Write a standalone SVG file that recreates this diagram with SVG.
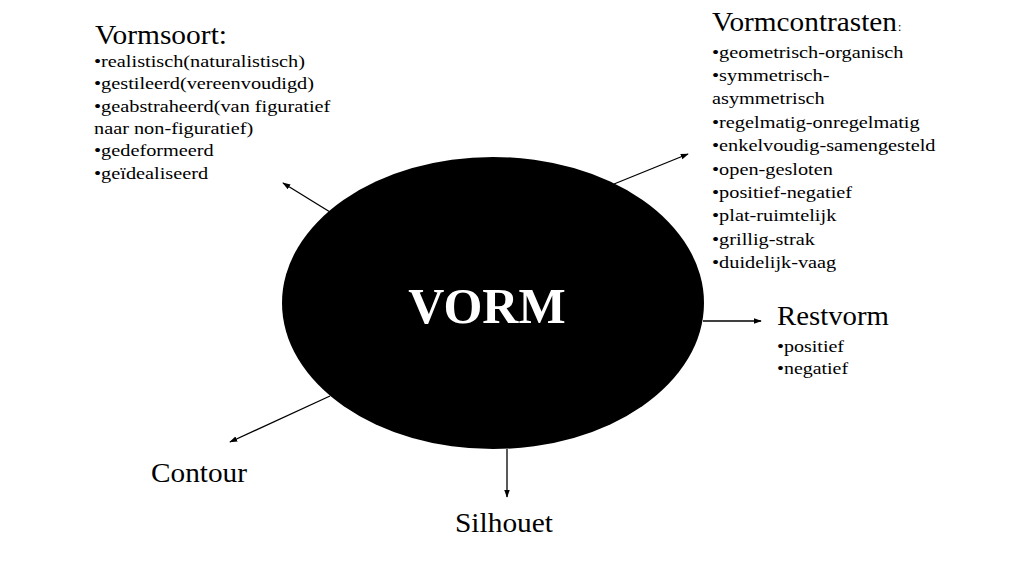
<svg xmlns="http://www.w3.org/2000/svg" width="1023" height="583" viewBox="0 0 1023 583">
<style>
text{font-family:"Liberation Serif","Times New Roman","DejaVu Serif",serif;fill:#000}
.h{font-size:27px}
.i{font-size:17.5px}
.s{font-size:16px}
.c{stroke:#000;stroke-width:1.3;fill:none;marker-end:url(#a)}
</style>
<defs>
<marker id="a" viewBox="0 0 10 10" refX="9" refY="5" markerWidth="8" markerHeight="8" orient="auto" markerUnits="userSpaceOnUse">
<path d="M0,1.5 L10,5 L0,8.5 z" fill="#000"/>
</marker>
</defs>
<rect width="1023" height="583" fill="#fff"/>
<g id="connectors">
<line class="c" x1="330" y1="212" x2="283" y2="183"/>
<line class="c" x1="614" y1="184" x2="688" y2="154"/>
<line class="c" x1="703" y1="321" x2="761" y2="321"/>
<line class="c" x1="330" y1="396" x2="230" y2="442"/>
<line class="c" x1="507" y1="449" x2="507" y2="497"/>
</g>
<g id="vorm">
<ellipse cx="493" cy="303" rx="211" ry="146" fill="#000"/>
<text x="487" y="323" font-size="50" font-weight="bold" text-anchor="middle" style="fill:#fff">VORM</text>
</g>
<g id="vormsoort">
<text class="h" x="95" y="43.5" textLength="132" lengthAdjust="spacingAndGlyphs">Vormsoort:</text>
<g transform="translate(94 0) scale(1.16 1)">
<text class="i" x="0" y="67">•realistisch(naturalistisch)</text>
<text class="i" x="0" y="89.5">•gestileerd(vereenvoudigd)</text>
<text class="i" x="0" y="112">•geabstraheerd(van figuratief</text>
<text class="i" x="0" y="134">naar non-figuratief)</text>
<text class="i" x="0" y="156.5">•gedeformeerd</text>
<text class="i" x="0" y="179">•geïdealiseerd</text>
</g>
</g>
<g id="vormcontrasten">
<text class="h" x="712" y="31" textLength="185" lengthAdjust="spacingAndGlyphs">Vormcontrasten</text>
<text x="898" y="31" font-size="12">:</text>
<g transform="translate(712 0) scale(1.16 1)">
<text class="i" x="0" y="58">•geometrisch-organisch</text>
<text class="i" x="0" y="81">•symmetrisch-</text>
<text class="i" x="0" y="104.5">asymmetrisch</text>
<text class="i" x="0" y="128">•regelmatig-onregelmatig</text>
<text class="i" x="0" y="151">•enkelvoudig-samengesteld</text>
<text class="i" x="0" y="175">•open-gesloten</text>
<text class="i" x="0" y="198">•positief-negatief</text>
<text class="i" x="0" y="221.5">•plat-ruimtelijk</text>
<text class="i" x="0" y="245">•grillig-strak</text>
<text class="i" x="0" y="268">•duidelijk-vaag</text>
</g>
</g>
<g id="restvorm">
<text class="h" x="777" y="325" textLength="112" lengthAdjust="spacingAndGlyphs">Restvorm</text>
<text class="s" x="777" y="352" textLength="67" lengthAdjust="spacingAndGlyphs">•positief</text>
<text class="s" x="777" y="374" textLength="71" lengthAdjust="spacingAndGlyphs">•negatief</text>
</g>
<g id="contour">
<text class="h" x="151" y="481.5" textLength="96" lengthAdjust="spacingAndGlyphs">Contour</text>
</g>
<g id="silhouet">
<text class="h" x="455" y="531.5" textLength="98" lengthAdjust="spacingAndGlyphs">Silhouet</text>
</g>
</svg>
